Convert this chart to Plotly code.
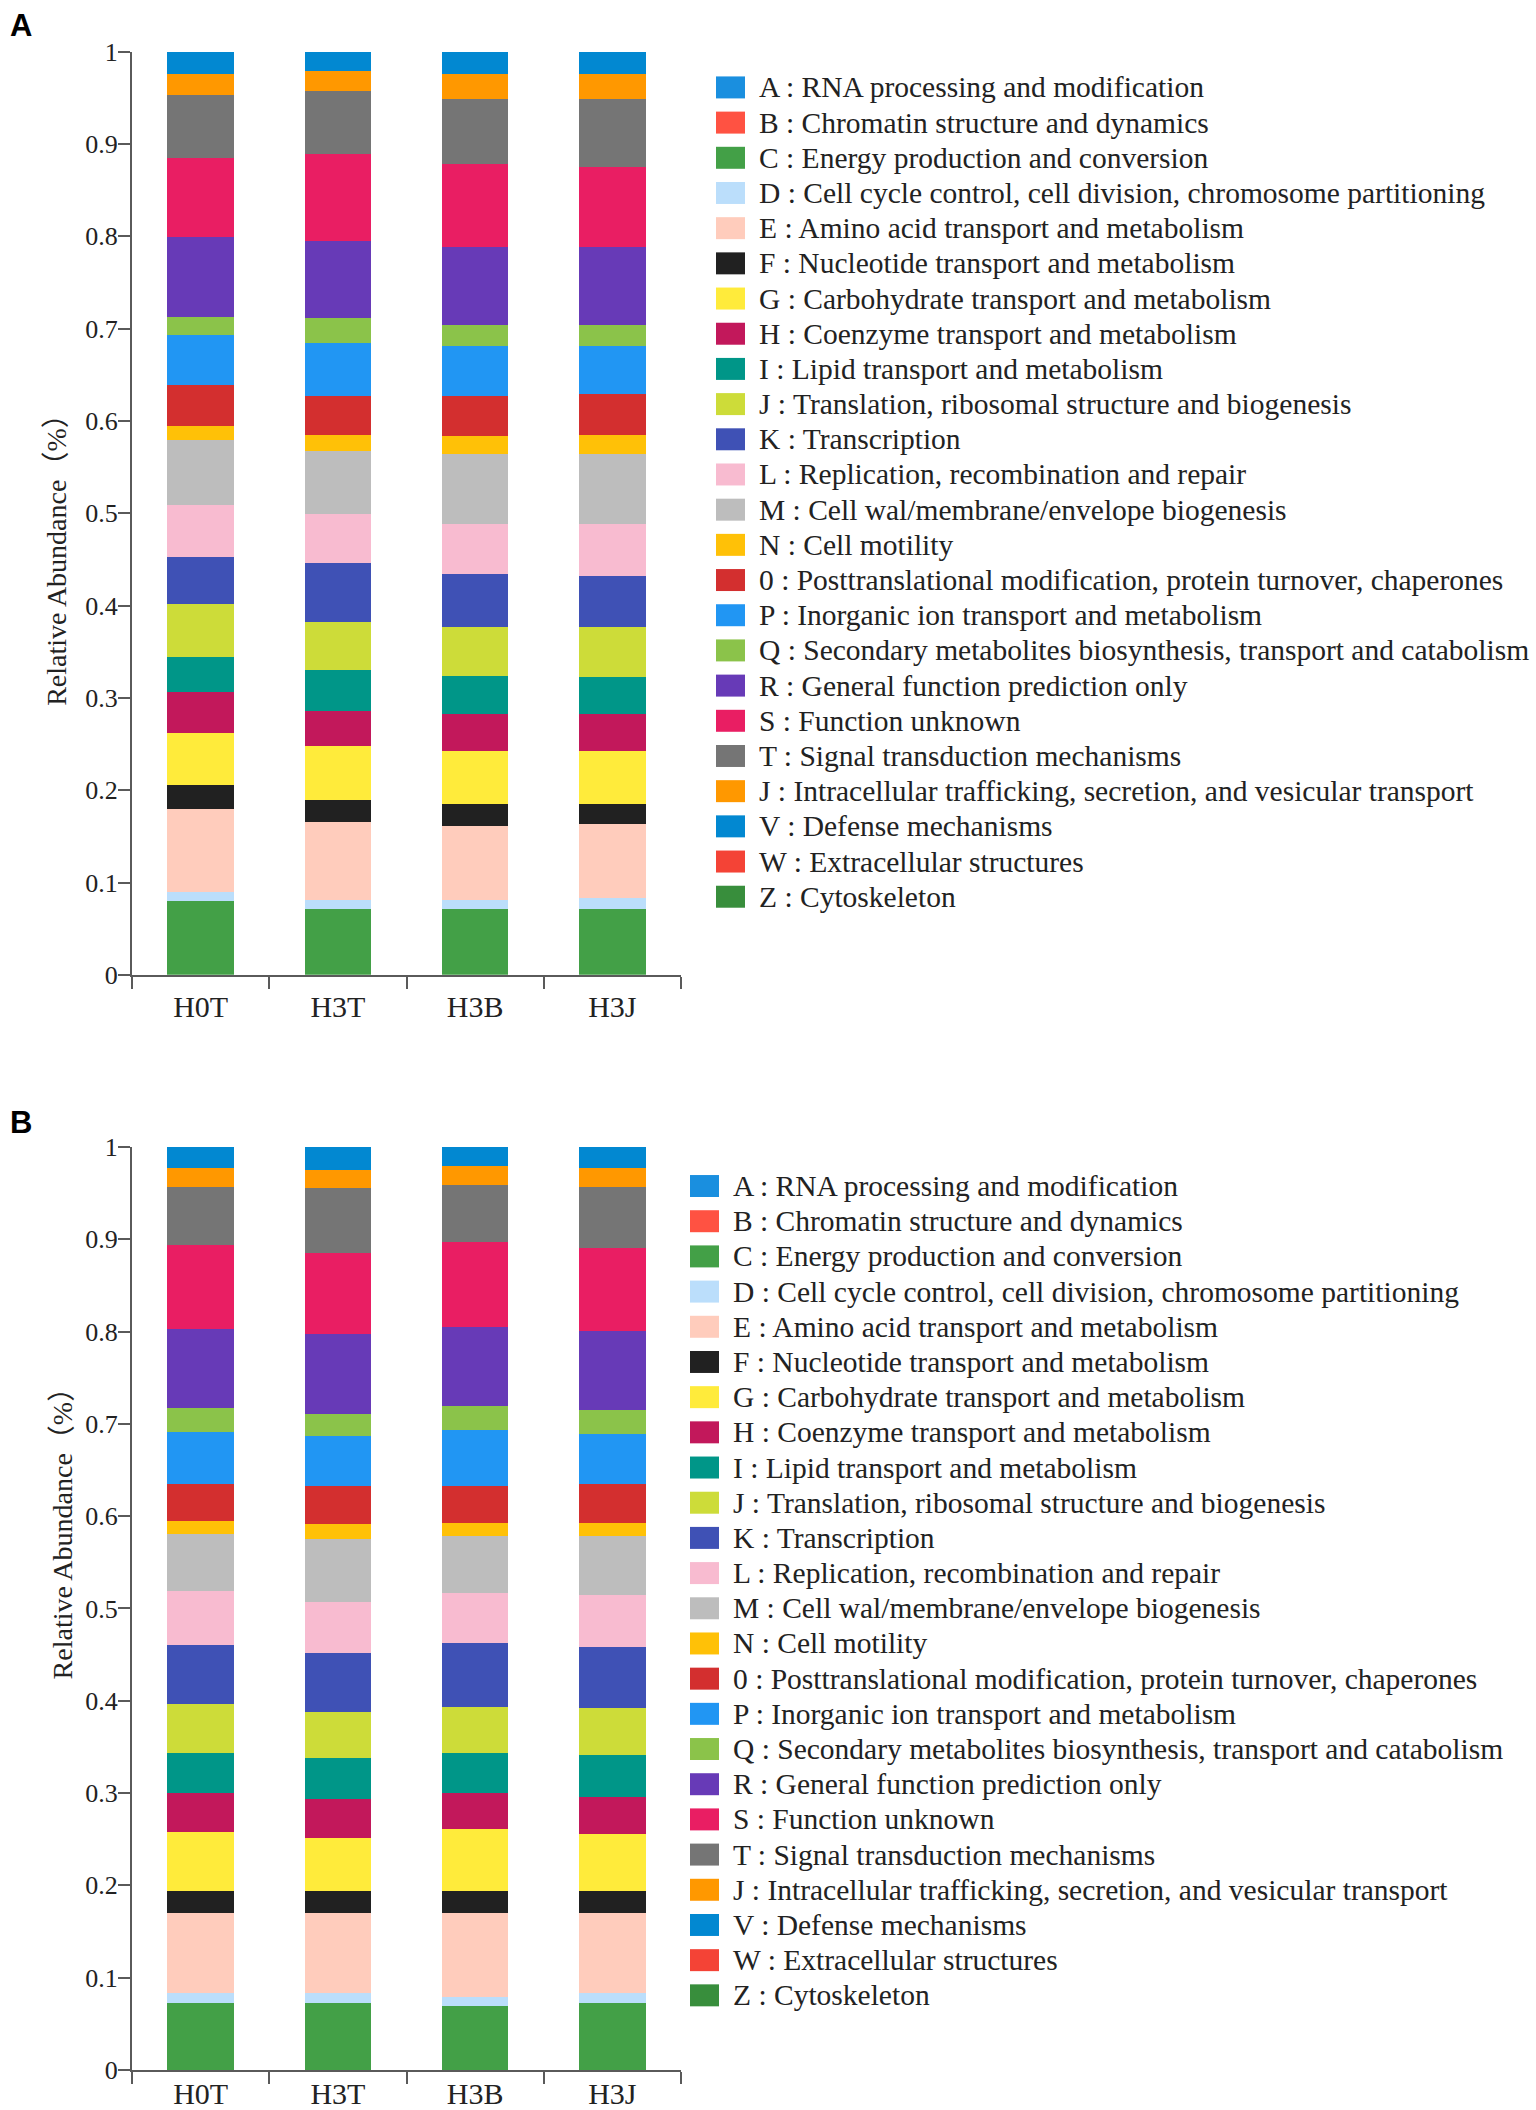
import plotly.graph_objects as go
from plotly.subplots import make_subplots

samples = ["H0T", "H3T", "H3B", "H3J"]

cog_labels = [
    "A : RNA processing and modification",
    "B : Chromatin structure and dynamics",
    "C : Energy production and conversion",
    "D : Cell cycle control, cell division, chromosome partitioning",
    "E : Amino acid transport and metabolism",
    "F : Nucleotide transport and metabolism",
    "G : Carbohydrate transport and metabolism",
    "H : Coenzyme transport and metabolism",
    "I : Lipid transport and metabolism",
    "J : Translation, ribosomal structure and biogenesis",
    "K : Transcription",
    "L : Replication, recombination and repair",
    "M : Cell wal/membrane/envelope biogenesis",
    "N : Cell motility",
    "0 : Posttranslational modification, protein turnover, chaperones",
    "P : Inorganic ion transport and metabolism",
    "Q : Secondary metabolites biosynthesis, transport and catabolism",
    "R : General function prediction only",
    "S : Function unknown",
    "T : Signal transduction mechanisms",
    "J : Intracellular trafficking, secretion, and vesicular transport",
    "V : Defense mechanisms",
    "W : Extracellular structures",
    "Z : Cytoskeleton",
]

cog_colors = [
    "#1A8FDF", "#FF5242", "#43A047", "#BBDEFB", "#FFCCBC", "#212121",
    "#FFEB3B", "#C2185B", "#009688", "#CDDC39", "#3F51B5", "#F8BBD0",
    "#BDBDBD", "#FFC107", "#D32F2F", "#2196F3", "#8BC34A", "#673AB7",
    "#E91E63", "#757575", "#FF9800", "#0288D1", "#F44336", "#388E3C",
]

# panel A, one value per COG category (A..Z order, bottom to top)
a_h0t = [0, 0, .0795, .0099, .0902, .0259, .0565, .044, .038, .058, .0505, .0565,
         .070, .016, .044, .054, .020, .086, .086, .068, .0225, .0245, 0, 0]
a_h3t = [0, 0, .0715, .0099, .0845, .024, .0582, .0381, .0437, .0525, .0639, .0526,
         .0681, .018, .0423, .0577, .0264, .0841, .0935, .0684, .0216, .021, 0, 0]
a_h3b = [0, 0, .0715, .0099, .0803, .0236, .0567, .0404, .0418, .0521, .0583, .054,
         .076, .0187, .044, .0542, .022, .0855, .089, .071, .0265, .0245, 0, 0]
a_h3j = [0, 0, .0715, .0118, .0803, .0217, .0567, .0404, .0399, .054, .056, .0563,
         .076, .0204, .0441, .0524, .022, .0855, .0865, .0735, .0265, .0245, 0, 0]

# panel B
b_h0t = [0, 0, .073, .0102, .0864, .0238, .0644, .0419, .0441, .0522, .0642, .0588,
         .0615, .0145, .040, .056, .026, .086, .0905, .0635, .020, .023, 0, 0]
b_h3t = [0, 0, .073, .0102, .0864, .0238, .0582, .0424, .044, .050, .064, .055,
         .0685, .0155, .042, .054, .024, .0865, .0875, .070, .020, .025, 0, 0]
b_h3b = [0, 0, .069, .0098, .0908, .0238, .068, .0383, .0441, .0499, .0683, .0546,
         .0621, .0137, .0406, .060, .026, .086, .0925, .0615, .020, .021, 0, 0]
b_h3j = [0, 0, .073, .0102, .0864, .0238, .0622, .0401, .0459, .0504, .066, .0568,
         .0639, .0137, .0426, .054, .0262, .0858, .089, .067, .020, .023, 0, 0]

panels = [[a_h0t, a_h3t, a_h3b, a_h3j], [b_h0t, b_h3t, b_h3b, b_h3j]]

W, H = 1536, 2110
SERIF = "Liberation Serif, Times New Roman, Noto Sans CJK SC, serif"
CJK = "Noto Sans CJK SC"
AXIS = "#5a5a5a"

fig = make_subplots(rows=2, cols=1)

for row, cols in enumerate(panels, start=1):
    for i, label in enumerate(cog_labels):
        fig.add_trace(go.Bar(
            x=samples,
            y=[c[i] for c in cols],
            name=label,
            marker=dict(color=cog_colors[i], line=dict(width=0)),
            showlegend=False),
            row=row, col=1)

# panel geometry in pixels (tuned by eye)
x_dom = [132 / W, 681 / W]
y_doms = [[1 - 978.9 / H, 1 - 38.5 / H], [1 - 2094.6 / H, 1 - 1154.3 / H]]

axis_common = dict(showline=True, linecolor=AXIS, linewidth=2, ticks="outside",
                   tickcolor=AXIS, tickwidth=2, ticklen=12, showgrid=False, zeroline=False)

for k, ydom in enumerate(y_doms):
    sfx = "" if k == 0 else "2"
    fig.update_layout(**{
        "xaxis" + sfx: dict(domain=x_dom, type="category", tickson="boundaries",
                            tickfont=dict(family=SERIF, size=30, color="#222"),
                            ticklabelstandoff=4 if k == 0 else -4, **axis_common),
        "yaxis" + sfx: dict(domain=ydom, range=[0, 1], tick0=0, dtick=0.1,
                            tickfont=dict(family=SERIF, size=26, color="#222"),
                            ticklabelstandoff=-5, **axis_common),
    })

# hand-made legends with larger swatches, like the original figure
legend_geo = [
    dict(sx0=716, sx1=745, tx=757, y0=74.8),
    dict(sx0=690, sx1=719, tx=731, y0=1194.1),
]
step = 35.85
shapes, annotations = [], []
for g in legend_geo:
    for i, label in enumerate(cog_labels):
        yc = g["y0"] + i * step
        shapes.append(dict(type="rect", xref="paper", yref="paper",
                           x0=g["sx0"] / W, x1=g["sx1"] / W,
                           y0=1 - (yc + 11.2) / H, y1=1 - (yc - 11.2) / H,
                           fillcolor=cog_colors[i], line=dict(width=0)))
        annotations.append(dict(text=label, xref="paper", yref="paper",
                                x=g["tx"] / W, y=1 - yc / H, xanchor="left", yanchor="middle",
                                showarrow=False, font=dict(family=SERIF, size=29.5, color="#222")))

# y axis titles (full-width brackets from the CJK font) and panel letters
y_title = ("Relative Abundance<span style='font-family:%s'>（</span>%%"
           "<span style='font-family:%s'>）</span>" % (CJK, CJK))
for x, y in [(54, 549), (60, 1540.9)]:
    annotations.append(dict(text=y_title, xref="paper", yref="paper",
                            x=x / W, y=1 - y / H, xanchor="center", yanchor="middle",
                            textangle=-90, showarrow=False,
                            font=dict(family=SERIF, size=28, color="#222")))
for letter, y in [("A", 11.5), ("B", 1129.8)]:
    annotations.append(dict(text="<b>" + letter + "</b>", xref="paper", yref="paper",
                            x=21 / W, y=1 - y / H, xanchor="center", yanchor="middle",
                            showarrow=False,
                            font=dict(family="Liberation Sans, Arial, sans-serif", size=31, color="#000")))

fig.update_layout(
    width=W, height=H,
    barmode="stack", bargap=0.515,
    margin=dict(l=0, r=0, t=0, b=0),
    plot_bgcolor="white", paper_bgcolor="white",
    shapes=shapes, annotations=annotations,
    showlegend=False,
)

fig.write_html("out.html", config={"displayModeBar": False},
               post_script="document.body.style.margin='0';")
